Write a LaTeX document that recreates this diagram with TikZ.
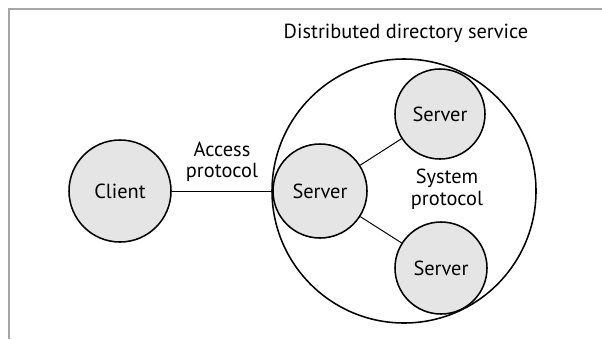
\documentclass[tikz,border=0pt]{standalone}
\usepackage{fontspec}
\setmainfont{PT Sans}
\usetikzlibrary{calc}
\tikzset{site/.style={circle,draw,line width=1.1pt,fill=gray!20,inner sep=0pt,font=\fontsize{14.5}{16}\selectfont},
  lbl/.style={align=center,font=\fontsize{14.5}{15.5}\selectfont}}

\begin{document}
\begin{tikzpicture}
\useasboundingbox (0,0) rectangle (15.05,8.475);
\draw [gray!70, line width=1pt] (0.225,0) -- (0.225,8.25) -- (15.05,8.25);

\node (dds) [circle, draw, line width=1.1pt, minimum size=6.6cm] at (10.1,3.7) {};
\node (ddslbl) [lbl] at (10.15,7.65) {Distributed directory service};

\node (client) [site, minimum size=2.55cm] at (3,3.7) {Client};
\node (srvA) [site, minimum size=2.35cm] at (8,3.7) {Server};
\node (srvB) [site, minimum size=2.25cm] at (11,5.625) {Server};
\node (srvC) [site, minimum size=2.3cm] at (11.025,1.775) {Server};

\draw [line width=0.7pt] (client) -- (srvA); \node (acc) [lbl, above] at ($(client.east)!0.5!(srvA.west)+(0,0.1)$) {Access\\protocol};
\draw [line width=0.7pt] (srvA) -- (srvB);
\draw [line width=0.7pt] (srvA) -- (srvC); \node (sys) [lbl] at (11.175,3.75) {System\\protocol};
\end{tikzpicture}
\end{document}
